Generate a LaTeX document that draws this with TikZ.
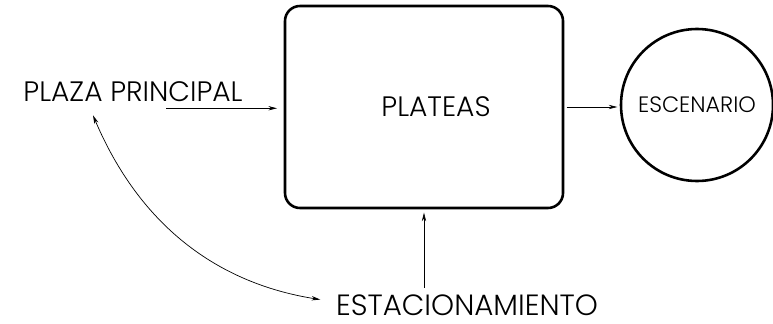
\documentclass[tikz,border=0pt]{standalone}
\usepackage{fontspec}
\setmainfont{Poppins}[UprightFont=* Light]
\usetikzlibrary{arrows.meta,positioning}

\begin{document}
\begin{tikzpicture}[
    lbl/.style={font=\fontsize{24}{28}\selectfont, inner sep=2pt},
    flow/.style={-{Stealth[length=2.6mm,width=1.3mm]}, line width=0.6pt},
    flowboth/.style={{Stealth[length=2.6mm,width=1.3mm]}-{Stealth[length=2.6mm,width=1.3mm]}, line width=0.6pt}]
  \useasboundingbox (0,0) rectangle (23.19,9.69);

  % seating block and stage
  \node[draw, line width=2.2pt, rounded corners=0.45cm, minimum width=8.34cm,
        minimum height=6.06cm, label={[lbl, xshift=0.36cm]center:PLATEAS}] (plateas) at (12.72,6.48) {};
  \node[draw, circle, line width=2.2pt, minimum size=4.56cm,
        font=\fontsize{19}{22}\selectfont] (escenario) at (20.91,6.54) {ESCENARIO};

  % places around it
  \node[lbl] (plaza) at (3.99,6.93) {PLAZA PRINCIPAL};
  \node[lbl, font=\fontsize{25}{29}\selectfont] (est) at (14.01,0.54) {ESTACIONAMIENTO};
  \coordinate[below right=0.11cm and 0.99cm of plaza.south] (plazaout);
  \coordinate[below left=0.32cm and 1.2cm of plaza.south] (plazain);

  % connections
  \draw[flow, shorten >=0.2cm] (plazaout) -- (plazaout -| plateas.west);
  \draw[flow, shorten <=0.07cm, shorten >=0.07cm] (plateas.east) -- (plateas.east -| escenario.west);
  \draw[flow, shorten <=0.12cm, shorten >=0.1cm] (est.north -| plateas.south) -- (plateas.south);
  \draw[flowboth, shorten >=0.4cm] (plazain) to[out=-67,in=171] ([yshift=0.1cm]est.west);
\end{tikzpicture}
\end{document}
